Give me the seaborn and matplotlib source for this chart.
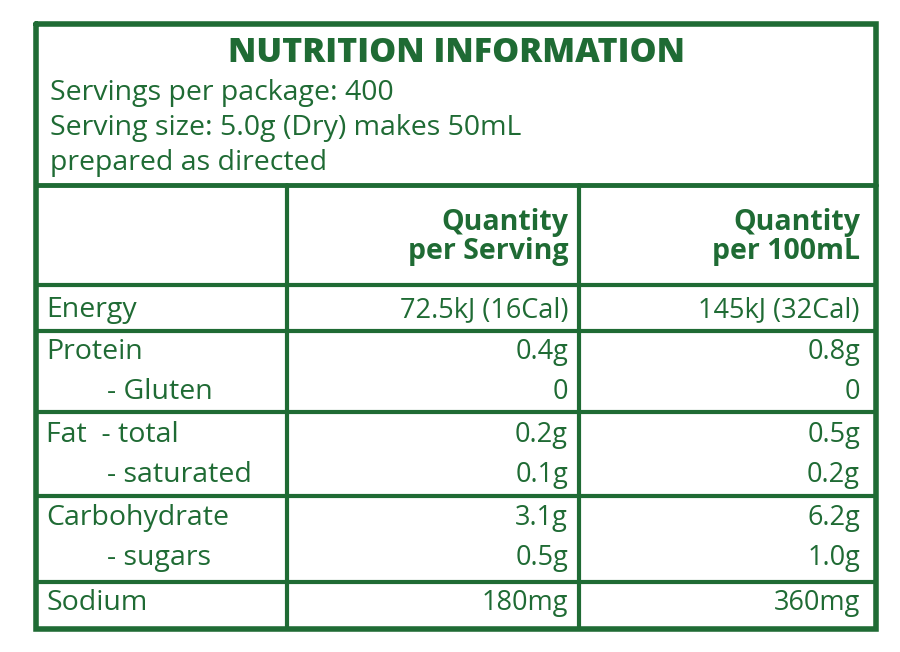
import matplotlib
matplotlib.use("Agg")
import matplotlib.pyplot as plt
import seaborn as sns

sns.set_theme(style="white")
plt.rcParams['font.family'] = ['Open Sans', 'DejaVu Sans']

GREEN = "#1f6b34"
title = "NUTRITION INFORMATION"
header_lines = ["Servings per package: 400", "Serving size: 5.0g (Dry) makes 50mL", "prepared as directed"]
col_heads = ["Quantity\nper Serving", "Quantity\nper 100mL"]
labels = ["Energy", "Protein", "- Gluten", "Fat  - total", "- saturated", "Carbohydrate", "- sugars", "Sodium"]
indented = [False, False, True, False, True, False, True, False]
per_serving = ["72.5kJ (16Cal)", "0.4g", "0", "0.2g", "0.1g", "3.1g", "0.5g", "180mg"]
per_100ml = ["145kJ (32Cal)", "0.8g", "0", "0.5g", "0.2g", "6.2g", "1.0g", "360mg"]
row_y = [310, 352, 392, 435, 475, 518, 558, 603]

fig = plt.figure(figsize=(9, 6.52), dpi=100)
ax = fig.add_axes([0, 0, 1, 1])
ax.set_xlim(0, 900); ax.set_ylim(652, 0); ax.axis("off")

L, R, T, B = 36, 876, 24, 629
ax.plot([L, R, R, L, L], [T, T, B, B, T], color=GREEN, lw=4, solid_joinstyle="miter")
ax.plot([L, R], [185, 185], color=GREEN, lw=3.5)
for x in (287, 579):
    ax.plot([x, x], [185, B], color=GREEN, lw=3)
for y in (285, 331, 412, 496, 582):
    ax.plot([L, R], [y, y], color=GREEN, lw=3)

FS = 20.5
ax.text(456, 53, title, color=GREEN, fontsize=24.5, fontweight="heavy", ha="center", va="center")
for i, t in enumerate(header_lines):
    ax.text(50, 93 + 35 * i, t, color=GREEN, fontsize=FS, ha="left", va="center")
for x, t in zip((568, 860), col_heads):
    ax.text(x, 237, t, color=GREEN, fontsize=FS, fontweight="bold", ha="right", va="center", linespacing=1.0)
for y, lab, ind, a, b in zip(row_y, labels, indented, per_serving, per_100ml):
    ax.text(107 if ind else 46, y, lab, color=GREEN, fontsize=FS, ha="left", va="center")
    ax.text(568, y, a, color=GREEN, fontsize=FS - 1, ha="right", va="center")
    ax.text(860, y, b, color=GREEN, fontsize=FS - 1, ha="right", va="center")

fig.savefig("out.png", dpi=100, facecolor="white")
